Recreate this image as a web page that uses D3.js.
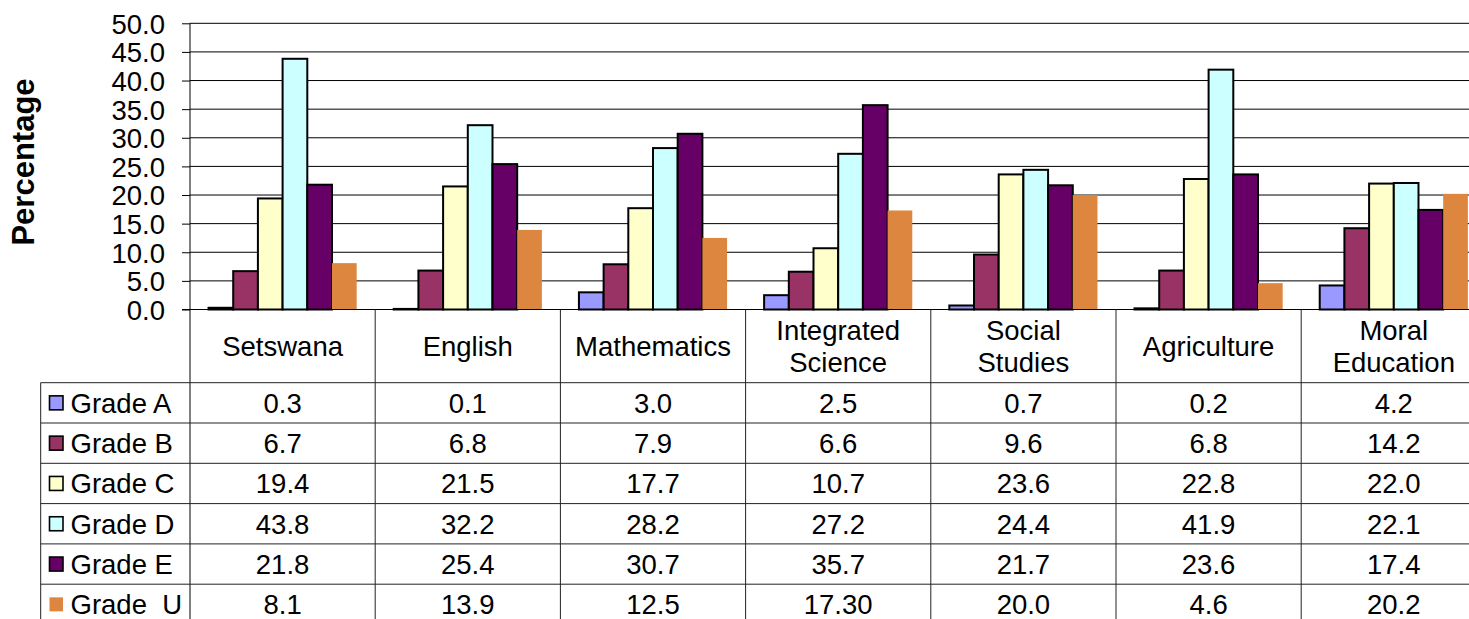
<!DOCTYPE html>
<html>
<head>
<meta charset="utf-8">
<script src="https://cdn.jsdelivr.net/npm/d3@7"></script>
<style>
  html, body { margin: 0; padding: 0; background: #fff; }
  svg { display: block; }
  text { font-family: "Liberation Sans", Arial, sans-serif; fill: #000; }
</style>
</head>
<body>
<svg id="chart" width="1469" height="619"></svg>
<script>
// ---- data ----
const categories = [["Setswana"], ["English"], ["Mathematics"], ["Integrated", "Science"], ["Social", "Studies"], ["Agriculture"], ["Moral", "Education"]];
const seriesNames = ["Grade A", "Grade B", "Grade C", "Grade D", "Grade E", "Grade  U"];
const gradeA = ["0.3", "0.1", "3.0", "2.5", "0.7", "0.2", "4.2"];
const gradeB = ["6.7", "6.8", "7.9", "6.6", "9.6", "6.8", "14.2"];
const gradeC = ["19.4", "21.5", "17.7", "10.7", "23.6", "22.8", "22.0"];
const gradeD = ["43.8", "32.2", "28.2", "27.2", "24.4", "41.9", "22.1"];
const gradeE = ["21.8", "25.4", "30.7", "35.7", "21.7", "23.6", "17.4"];
const gradeU = ["8.1", "13.9", "12.5", "17.30", "20.0", "4.6", "20.2"];
const yTicks = [0, 5, 10, 15, 20, 25, 30, 35, 40, 45, 50];
const seriesColors = ["#9999FF", "#993366", "#FFFFCC", "#CCFFFF", "#660066", "#DD8640"];
const seriesStroked = [true, true, true, true, true, false];

const seriesValues = [gradeA, gradeB, gradeC, gradeD, gradeE, gradeU];
const catKeys = categories.map(c => c.join(" "));

// ---- layout ----
const svg = d3.select("#chart");
const plotLeft = 190, plotTop = 23.3, plotBottom = 309.5;
const catW = 185.2;
const plotRight = plotLeft + catW * categories.length;
const fontSize = 27.5;
const headerBottom = 382.7;
const rowH = 40.3;
const legendLeft = 40.7;

const x0 = d3.scaleBand().domain(catKeys).range([plotLeft, plotRight]).padding(0);
const x1 = d3.scaleBand().domain(d3.range(seriesNames.length)).range([0, x0.bandwidth()])
  .paddingInner(0).paddingOuter(0.75);
const y = d3.scaleLinear().domain([0, 50]).range([plotBottom, plotTop]);

// gridlines
svg.append("g").selectAll("line").data(yTicks.filter(d => d > 0)).join("line")
  .attr("x1", plotLeft).attr("x2", 1469)
  .attr("y1", d => y(d)).attr("y2", d => y(d))
  .attr("stroke", "#000").attr("stroke-width", 1);

// y axis
const yAxis = d3.axisLeft(y).tickValues(yTicks).tickFormat(d3.format(".1f")).tickSize(8).tickPadding(17);
const yg = svg.append("g").attr("transform", `translate(${plotLeft},0)`).call(yAxis);
yg.select(".domain").remove();
yg.selectAll(".tick line").attr("stroke", "#000");
yg.selectAll(".tick text").attr("font-size", fontSize).attr("dy", "0.36em")
  .style("font-family", '"Liberation Sans", Arial, sans-serif').attr("fill", "#000");

// axis title
svg.append("text")
  .attr("transform", `translate(${34},${162}) rotate(-90)`)
  .attr("text-anchor", "middle")
  .attr("font-size", 31).attr("font-weight", "bold")
  .text("Percentage");

// bars
const groups = svg.append("g").selectAll("g").data(catKeys).join("g")
  .attr("transform", d => `translate(${x0(d)},0)`);
groups.selectAll("rect").data((d, ci) => seriesValues.map((s, si) => ({ si, v: +s[ci] })))
  .join("rect")
  .attr("x", d => x1(d.si))
  .attr("width", x1.bandwidth())
  .attr("y", d => y(d.v))
  .attr("height", d => y(0) - y(d.v))
  .attr("fill", d => seriesColors[d.si])
  .attr("stroke", d => seriesStroked[d.si] ? "#000" : "none")
  .attr("stroke-width", 2);

// table lines
const tableBottom = headerBottom + rowH * seriesNames.length;
const lineColor = "#222";
const tl = svg.append("g").attr("stroke", lineColor).attr("stroke-width", 1);
tl.append("line").attr("x1", plotLeft - 8).attr("x2", 1469).attr("y1", plotBottom).attr("y2", plotBottom).attr("stroke", "#000");
tl.append("line").attr("x1", plotLeft).attr("x2", plotLeft).attr("y1", plotTop).attr("y2", tableBottom).attr("stroke", "#000");
tl.selectAll(".vsep").data(catKeys.slice(1)).join("line")
  .attr("x1", d => x0(d)).attr("x2", d => x0(d))
  .attr("y1", plotBottom).attr("y2", tableBottom);
tl.append("line").attr("x1", legendLeft).attr("x2", legendLeft).attr("y1", headerBottom).attr("y2", tableBottom);
tl.selectAll(".hrow").data(d3.range(seriesNames.length + 1)).join("line")
  .attr("x1", legendLeft).attr("x2", 1469)
  .attr("y1", i => headerBottom + i * rowH).attr("y2", i => headerBottom + i * rowH);

// header category labels
const headerMid = (plotBottom + headerBottom) / 2;
svg.append("g").selectAll("text").data(categories).join("text")
  .attr("text-anchor", "middle")
  .attr("font-size", fontSize)
  .each(function (lines, ci) {
    const cx = x0(catKeys[ci]) + x0.bandwidth() / 2;
    const t = d3.select(this);
    lines.forEach((ln, li) => {
      const cy = lines.length === 1 ? headerMid : headerMid - 0.5 + (li - 0.5) * 32;
      t.append("tspan").attr("x", cx).attr("y", cy).attr("dy", "0.36em").text(ln);
    });
  });

// legend rows
const lg = svg.append("g");
seriesNames.forEach((name, si) => {
  const cy = headerBottom + si * rowH + rowH / 2;
  lg.append("rect")
    .attr("x", 49.5).attr("y", cy - 7).attr("width", 13.5).attr("height", 14)
    .attr("fill", seriesColors[si])
    .attr("stroke", seriesStroked[si] ? "#000" : "none").attr("stroke-width", 1.6);
  lg.append("text").attr("x", 70.5).attr("y", cy).attr("dy", "0.36em")
    .attr("font-size", fontSize).style("white-space", "pre").attr("xml:space", "preserve")
    .text(name);
  lg.append("g").selectAll("text").data(seriesValues[si]).join("text")
    .attr("x", (d, ci) => x0(catKeys[ci]) + x0.bandwidth() / 2)
    .attr("y", cy).attr("dy", "0.36em")
    .attr("text-anchor", "middle").attr("font-size", fontSize)
    .text(d => d);
});
</script>
</body>
</html>
